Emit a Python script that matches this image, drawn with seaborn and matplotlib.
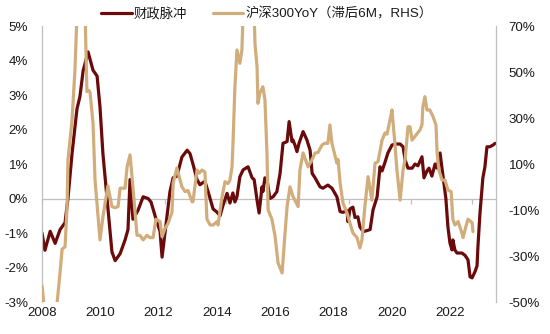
import numpy as np
import pandas as pd
import matplotlib
matplotlib.use("Agg")
import matplotlib.pyplot as plt
import seaborn as sns
from matplotlib.ticker import FuncFormatter

# ---------------- data ----------------
fiscal_years = [
    2008.00, 2008.10, 2008.28, 2008.45, 2008.62, 2008.79, 2008.89, 2009.03, 2009.20, 2009.30,
    2009.41, 2009.58, 2009.75, 2009.89, 2009.99, 2010.09, 2010.23, 2010.40, 2010.51, 2010.68,
    2010.85, 2010.95, 2011.02, 2011.12, 2011.29, 2011.47, 2011.64, 2011.74, 2011.88, 2011.95,
    2012.05, 2012.12, 2012.22, 2012.29, 2012.39, 2012.50, 2012.63, 2012.80, 2012.98, 2013.08,
    2013.18, 2013.32, 2013.42, 2013.59, 2013.70, 2013.87, 2014.01, 2014.11, 2014.21, 2014.35,
    2014.45, 2014.55, 2014.62, 2014.69, 2014.79, 2014.90, 2015.07, 2015.21, 2015.28, 2015.38,
    2015.45, 2015.55, 2015.58, 2015.65, 2015.72, 2015.82, 2015.93, 2016.06, 2016.17, 2016.27,
    2016.41, 2016.48, 2016.58, 2016.61, 2016.68, 2016.75, 2016.82, 2016.96, 2017.09, 2017.20,
    2017.27, 2017.37, 2017.54, 2017.64, 2017.81, 2017.95, 2018.12, 2018.23, 2018.33, 2018.47,
    2018.50, 2018.57, 2018.67, 2018.74, 2018.84, 2018.91, 2019.02, 2019.15, 2019.26, 2019.36,
    2019.50, 2019.60, 2019.67, 2019.77, 2019.87, 2020.01, 2020.11, 2020.29, 2020.39, 2020.46,
    2020.56, 2020.70, 2020.80, 2020.90, 2021.04, 2021.11, 2021.21, 2021.28, 2021.38, 2021.49,
    2021.56, 2021.66, 2021.76, 2021.86, 2021.93, 2022.00, 2022.07, 2022.10, 2022.17, 2022.24,
    2022.41, 2022.52, 2022.62, 2022.69, 2022.76, 2022.86, 2022.93, 2022.96, 2023.03, 2023.13,
    2023.20, 2023.27, 2023.37, 2023.48, 2023.55,
]
fiscal_impulse = [
    -1.0, -1.5, -0.95, -1.3, -0.9, -0.7, 0.0, 1.3, 2.6, 2.95,
    3.7, 4.25, 3.72, 3.55, 2.65, 1.3, 0.0, -1.55, -1.8, -1.6,
    -1.2, -0.9, 0.55, -0.6, -0.35, 0.05, 0.0, -0.1, -0.5, -0.7,
    -0.95, -1.7, -1.0, -0.5, 0.2, 0.6, 0.65, 1.2, 1.4, 1.3,
    1.0, 0.55, 0.4, 0.5, 0.2, -0.3, -0.4, -0.5, -0.2, 0.15,
    -0.13, 0.16, -0.1, 0.05, 0.63, 0.83, 0.92, 0.6, 0.55, -0.05,
    -0.42, 0.34, 0.2, 0.6, 0.55, 0.0, 0.05, 0.2, 0.73, 1.6,
    1.65, 2.23, 1.65, 1.7, 1.55, 1.36, 1.6, 1.94, 1.7, 1.4,
    0.73, 0.6, 0.34, 0.3, 0.39, 0.3, 0.05, -0.38, -0.4, -0.35,
    -0.67, -0.3, -0.25, -0.55, -0.53, -0.82, -0.96, -0.93, -0.9, -0.33,
    0.05, 0.92, 0.8, 1.05, 1.32, 1.55, 1.58, 1.58, 1.5, 1.12,
    0.88, 0.88, 1.0, 0.95, 1.21, 0.6, 0.8, 0.88, 0.65, 1.0,
    0.88, 1.32, 0.65, 0.0, -0.82, -1.29, -1.49, -1.2, -1.49, -1.58,
    -1.58, -1.65, -1.78, -2.27, -2.3, -2.12, -1.95, -1.4, -0.43, 0.6,
    0.92, 1.5, 1.5, 1.55, 1.6,
]

csi_years = [
    2008.00, 2008.10, 2008.28, 2008.45, 2008.52, 2008.62, 2008.69, 2008.79, 2008.86, 2008.89,
    2009.03, 2009.13, 2009.20, 2009.35, 2009.48, 2009.54, 2009.61, 2009.65, 2009.75, 2009.82,
    2009.99, 2010.09, 2010.26, 2010.40, 2010.51, 2010.61, 2010.68, 2010.85, 2010.92, 2011.02,
    2011.12, 2011.26, 2011.36, 2011.47, 2011.60, 2011.71, 2011.81, 2011.91, 2012.05, 2012.12,
    2012.22, 2012.32, 2012.46, 2012.50, 2012.63, 2012.80, 2012.91, 2013.01, 2013.15, 2013.18,
    2013.32, 2013.39, 2013.49, 2013.59, 2013.66, 2013.77, 2013.87, 2014.01, 2014.04, 2014.18,
    2014.28, 2014.38, 2014.45, 2014.52, 2014.55, 2014.62, 2014.69, 2014.79, 2014.86, 2014.90,
    2015.05, 2015.20, 2015.28, 2015.31, 2015.38, 2015.41, 2015.48, 2015.58, 2015.65, 2015.72,
    2015.76, 2015.89, 2016.00, 2016.10, 2016.24, 2016.34, 2016.41, 2016.51, 2016.61, 2016.79,
    2016.85, 2016.96, 2017.13, 2017.27, 2017.37, 2017.47, 2017.61, 2017.71, 2017.81, 2017.88,
    2017.95, 2017.99, 2018.12, 2018.16, 2018.23, 2018.33, 2018.47, 2018.57, 2018.67, 2018.81,
    2018.91, 2018.98, 2019.08, 2019.19, 2019.32, 2019.43, 2019.53, 2019.67, 2019.77, 2019.84,
    2019.94, 2020.01, 2020.11, 2020.18, 2020.29, 2020.39, 2020.46, 2020.56, 2020.63, 2020.70,
    2020.80, 2020.97, 2021.04, 2021.07, 2021.14, 2021.21, 2021.31, 2021.42, 2021.52, 2021.56,
    2021.62, 2021.73, 2021.83, 2021.93, 2022.04, 2022.10, 2022.17, 2022.28, 2022.41, 2022.45,
    2022.55, 2022.62, 2022.76, 2022.79,
]
csi300_yoy = [
    -43, -55, -60, -55, -50, -37, -27, -26, -8.5, 11.7,
    29, 51, 75, 90, 75, 41.5, 42, 41, 27.8, 3,
    -23, -13, 0.5, -8.5, -9, -8.5, -0.5, -0.5, 8.8, 14,
    0, -21, -21, -23, -21, -22, -22, -14, -15, -21.6,
    -18, -16, -11, 1.7, 8.3, 0.1, -2, -1.5, -6.4, -6.4,
    7.4, 6, 7.4, 6.5, -14, -16.5, -16.5, -15, -16.5, -4.2,
    2.3, 1.5, 3, 8.8, 17.5, 43.6, 59.6, 53.8, 59.6, 75,
    90, 88, 75, 62, 52.3, 36.4, 40.9, 43.6, 38, 14.8,
    -10, -14, -21.6, -33, -37.4, -20, -8.5, 0.1, -4, -8.5,
    7.4, 14.8, 8.8, 12, 14.8, 15, 18.3, 19, 19, 27,
    19, 17, 10.4, 12, 1.7, -7, -11.4, -15.8, -20, -22,
    -26.5, -23, -8.5, 4.5, -5.7, 10.4, 11, 20.4, 23.5, 23,
    29, 33.5, 19, 7.4, -5.7, 7.4, 12, 26.2, 26.2, 20.4,
    22, 24.8, 27, 34.9, 39.3, 33.5, 33.5, 30.6, 27, 14.8,
    7.4, 3, 3, -1.3, -2, -14, -16.5, -15, -20, -22,
    -17, -14, -15.5, -19.4,
]

year_ticks = [2008, 2010, 2012, 2014, 2016, 2018, 2020, 2022]
left_ticks = [-3, -2, -1, 0, 1, 2, 3, 4, 5]
right_ticks = [-50, -30, -10, 10, 30, 50, 70]

label_fiscal = "财政脉冲"
label_csi = "沪深300YoY（滞后6M，RHS）"

df_f = pd.DataFrame({"year": fiscal_years, "value": fiscal_impulse})
df_c = pd.DataFrame({"year": csi_years, "value": csi300_yoy})

# ---------------- style ----------------
sns.set_style("white")
plt.rcParams["font.family"] = ["Liberation Sans", "Noto Sans CJK SC", "DejaVu Sans"]
plt.rcParams["axes.unicode_minus"] = False

RED = "#6B0A0A"
TAN = "#D2AD7C"
GRID = "#BFBFBF"
TXT = "#1a1a1a"
FS = 9.6

fig = plt.figure(figsize=(5.5, 3.34), dpi=100)
ax = fig.add_axes([0.0764, 0.0958, 0.8254, 0.8262])
ax2 = ax.twinx()

sns.lineplot(data=df_f, x="year", y="value", ax=ax, color=RED, linewidth=2.3,
             label=label_fiscal, legend=False)
sns.lineplot(data=df_c, x="year", y="value", ax=ax2, color=TAN, linewidth=2.3,
             label=label_csi, legend=False)

ax.set_xlim(2008.0, 2023.58)
ax.set_ylim(-3, 5)
ax2.set_ylim(-50, 70)

ax.set_xlabel("")
ax.set_ylabel("")
ax2.set_ylabel("")

ax.set_yticks(left_ticks)
ax.yaxis.set_major_formatter(FuncFormatter(lambda v, p: f"{v:.0f}%"))
ax2.set_yticks(right_ticks)
ax2.yaxis.set_major_formatter(FuncFormatter(lambda v, p: f"{v:.0f}%"))
ax.set_xticks(year_ticks)
ax.set_xticklabels([str(y) for y in year_ticks])

ax.tick_params(axis="y", length=0, pad=10, labelsize=FS, labelcolor=TXT)
ax2.tick_params(axis="y", length=0, pad=9, labelsize=FS, labelcolor=TXT)
ax.tick_params(axis="x", length=0, pad=3.5, labelsize=FS, labelcolor=TXT)

for a in (ax, ax2):
    for s in ("top", "bottom"):
        a.spines[s].set_visible(False)
ax.spines["left"].set_color(GRID)
ax.spines["left"].set_linewidth(0.9)
ax2.spines["right"].set_color(GRID)
ax2.spines["right"].set_linewidth(0.9)
ax2.spines["left"].set_visible(False)
ax.spines["right"].set_visible(False)

# zero axis line with small tick marks
sec = ax.secondary_xaxis(3 / 8)
sec.set_xticks(np.arange(2008.0, 2023.6, 2.11))
sec.set_xticklabels([])
sec.tick_params(axis="x", length=3.5, width=0.9, color=GRID, direction="out")
sec.spines["bottom"].set_color(GRID)
sec.spines["bottom"].set_linewidth(0.9)
sec.set_zorder(0.5)

ax.set_zorder(ax2.get_zorder() - 1)
ax.patch.set_visible(False)
ax2.patch.set_visible(False)

h1, l1 = ax.get_legend_handles_labels()
h2, l2 = ax2.get_legend_handles_labels()
fig.legend(h1 + h2, l1 + l2, loc="center", bbox_to_anchor=(0.485, 0.958), ncol=2,
           frameon=False, fontsize=FS, handlelength=2.3, handletextpad=0.15,
           columnspacing=1.9, borderaxespad=0)
for t in fig.legends[0].get_texts():
    t.set_color(TXT)

fig.savefig("out.png", dpi=100)
